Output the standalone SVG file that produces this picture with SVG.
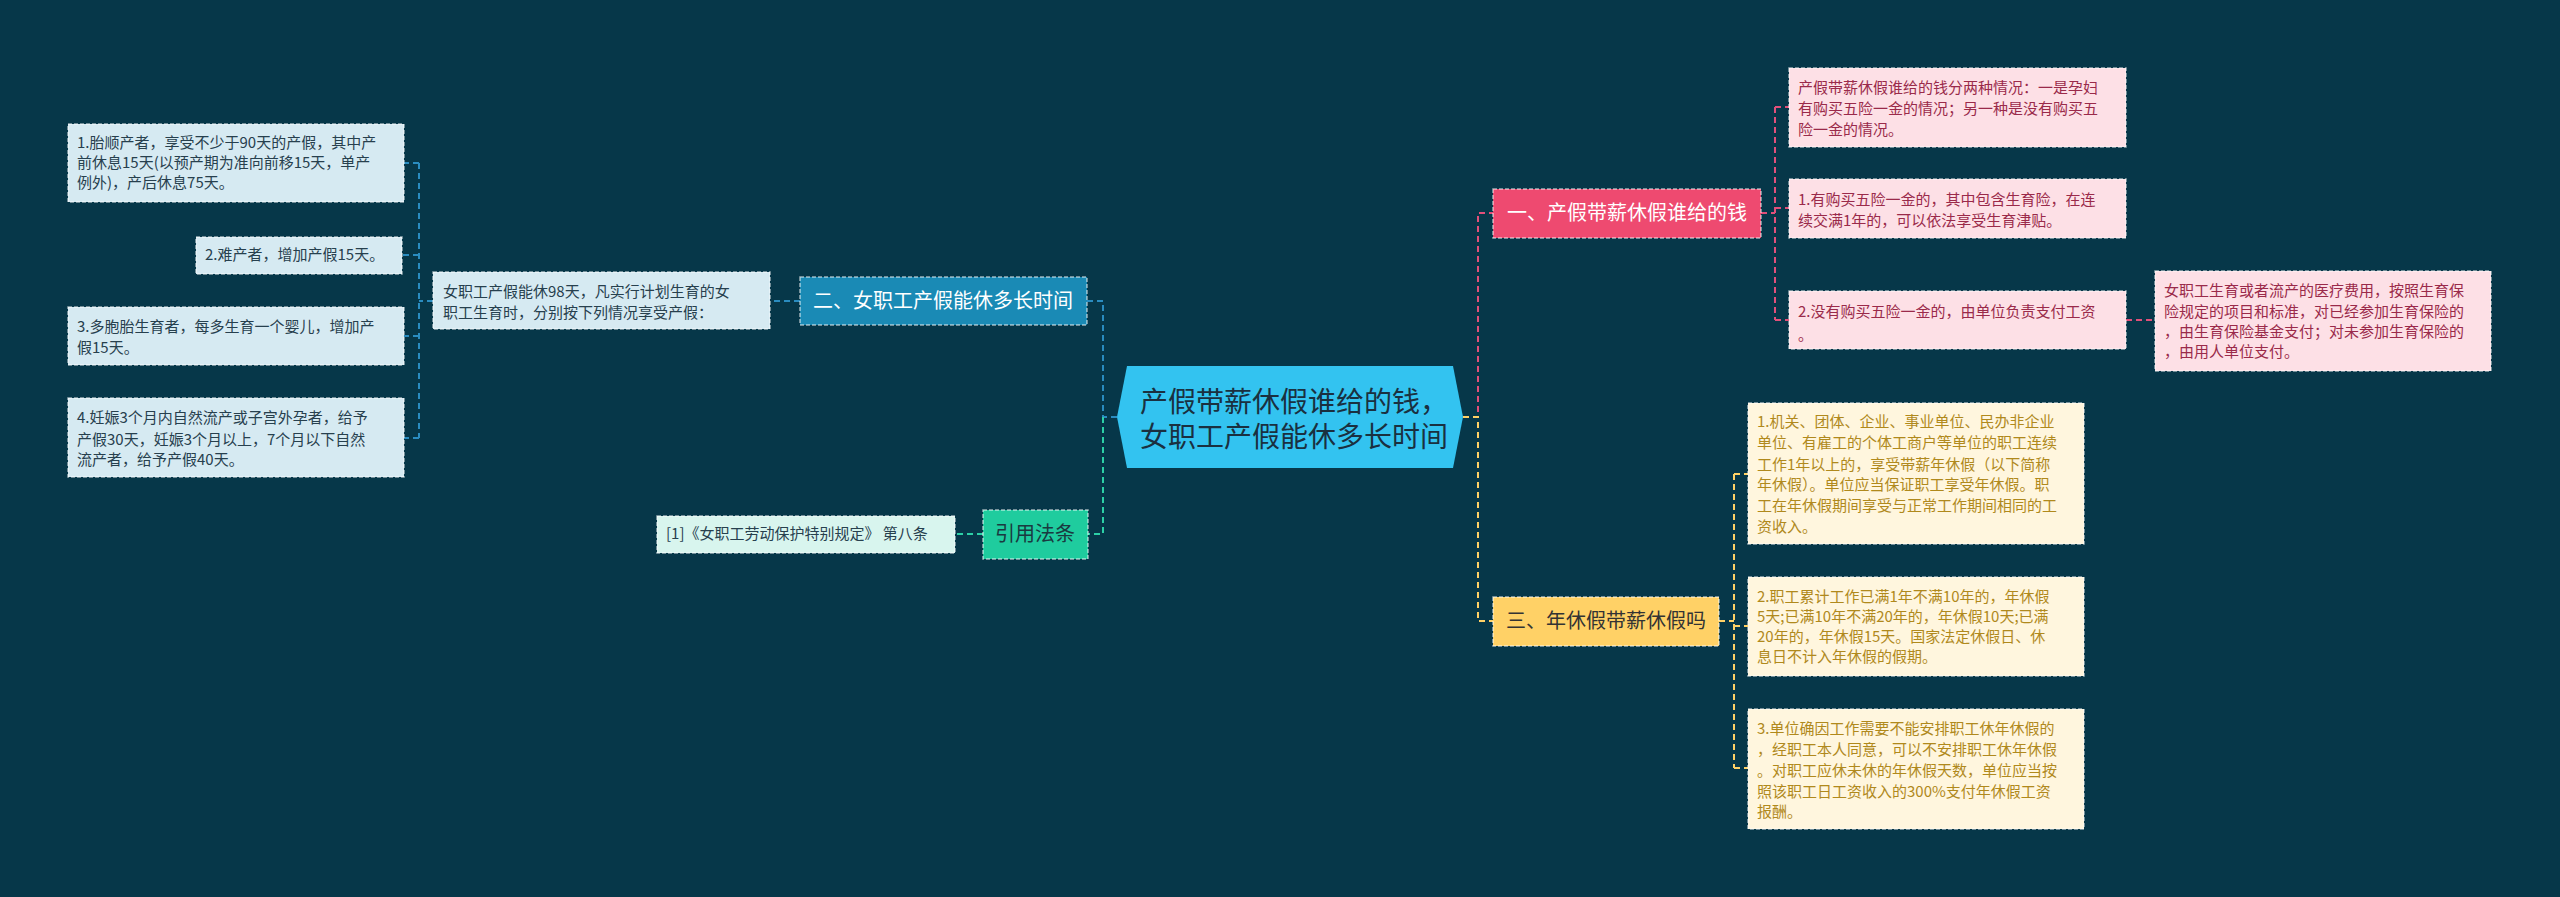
<svg xmlns="http://www.w3.org/2000/svg" width="2560" height="897" viewBox="0 0 2560 897">
<style>
text{font-family:"Noto Sans CJK SC","Liberation Sans",sans-serif;}
.s{font-size:15px;}
.b{font-size:20px;}
.box{stroke:#ffffff;stroke-opacity:.6;stroke-width:1.5;stroke-dasharray:4 2;}
.bl{fill:#d6eaf2}.blt{fill:#27404e}
.pk{fill:#fde0e6}.pkt{fill:#9a2a4a}
.yl{fill:#fff6de}.ylt{fill:#b0891c}
.c{fill:none;stroke-width:2;stroke-dasharray:6 4;}
</style>
<rect width="2560" height="897" fill="#063749"/>
<g id="connectors">
<path class="c" stroke="#2a8cc0" d="M1117 417H1103V301H1087M800 301H770M433 301H419M419 163V438M419 163H404M419 255H402M419 336H404M419 438H404"/>
<path class="c" stroke="#2cd0a6" d="M1103 417V534H1088M983 534H955"/>
<path class="c" stroke="#e0507a" d="M1463 417H1478V213H1493M1761 213H1775M1775 107V320M1775 107H1789M1775 208H1789M1775 320H1789M2126 320H2155"/>
<path class="c" stroke="#ffd166" d="M1463 417H1478V621H1493M1719 621H1734M1734 474V768M1734 474H1748M1734 626H1748M1734 768H1748"/>
</g>
<g id="center"><polygon points="1127,366 1453,366 1463,417 1453,468 1127,468 1117,417" fill="#33c3f0"/>
<text x="1140" y="412" font-size="28" fill="#1a3040">产假带薪休假谁给的钱，</text>
<text x="1140" y="447" font-size="28" fill="#1a3040">女职工产假能休多长时间</text></g>
<g id="b2"><rect x="800" y="277" width="287" height="48" fill="#1a8ab5" class="box"/><text x="943" y="308" text-anchor="middle" class="b" fill="#fff">二、女职工产假能休多长时间</text></g>
<g id="intro"><rect x="433" y="272" width="337" height="57" class="box bl"/><text class="s blt" x="443" y="297">女职工产假能休98天，凡实行计划生育的女</text><text class="s blt" x="443" y="318">职工生育时，分别按下列情况享受产假：</text></g>
<g id="l1"><rect x="68" y="124" width="336" height="78" class="box bl"/><text class="s blt" x="77" y="148">1.胎顺产者，享受不少于90天的产假，其中产</text><text class="s blt" x="77" y="168">前休息15天(以预产期为准向前移15天，单产</text><text class="s blt" x="77" y="188">例外)，产后休息75天。</text></g>
<g id="l2"><rect x="196" y="237" width="206" height="37" class="box bl"/><text class="s blt" x="205" y="260">2.难产者，增加产假15天。</text></g>
<g id="l3"><rect x="68" y="307" width="336" height="58" class="box bl"/><text class="s blt" x="77" y="332">3.多胞胎生育者，每多生育一个婴儿，增加产</text><text class="s blt" x="77" y="353">假15天。</text></g>
<g id="l4"><rect x="68" y="398" width="336" height="79" class="box bl"/><text class="s blt" x="77" y="423">4.妊娠3个月内自然流产或子宫外孕者，给予</text><text class="s blt" x="77" y="445">产假30天，妊娠3个月以上，7个月以下自然</text><text class="s blt" x="77" y="465">流产者，给予产假40天。</text></g>
<g id="cite"><rect x="983" y="510" width="105" height="49" fill="#1fcc9e" class="box"/><text x="1035" y="541" text-anchor="middle" class="b" fill="#1a3a40">引用法条</text></g>
<g id="ref"><rect x="657" y="516" width="298" height="37" fill="#d8f5ee" class="box"/><text class="s" fill="#27404e" x="666" y="539">[1]《女职工劳动保护特别规定》 第八条</text></g>
<g id="b1"><rect x="1493" y="189" width="268" height="49" fill="#ee4a70" class="box"/><text x="1627" y="220" text-anchor="middle" class="b" fill="#fff">一、产假带薪休假谁给的钱</text></g>
<g id="pA"><rect x="1789" y="68" width="337" height="79" class="box pk"/><text class="s pkt" x="1798" y="93">产假带薪休假谁给的钱分两种情况：一是孕妇</text><text class="s pkt" x="1798" y="114">有购买五险一金的情况；另一种是没有购买五</text><text class="s pkt" x="1798" y="135">险一金的情况。</text></g>
<g id="pB"><rect x="1789" y="179" width="337" height="59" class="box pk"/><text class="s pkt" x="1798" y="205">1.有购买五险一金的，其中包含生育险，在连</text><text class="s pkt" x="1798" y="226">续交满1年的，可以依法享受生育津贴。</text></g>
<g id="pC"><rect x="1789" y="291" width="337" height="58" class="box pk"/><text class="s pkt" x="1798" y="317">2.没有购买五险一金的，由单位负责支付工资</text><text class="s pkt" x="1798" y="340">。</text></g>
<g id="pD"><rect x="2155" y="271" width="336" height="100" class="box pk"/><text class="s pkt" x="2164" y="296">女职工生育或者流产的医疗费用，按照生育保</text><text class="s pkt" x="2164" y="317">险规定的项目和标准，对已经参加生育保险的</text><text class="s pkt" x="2164" y="337">，由生育保险基金支付；对未参加生育保险的</text><text class="s pkt" x="2164" y="357">，由用人单位支付。</text></g>
<g id="b3"><rect x="1493" y="597" width="226" height="49" fill="#ffd166" class="box"/><text x="1606" y="628" text-anchor="middle" class="b" fill="#333">三、年休假带薪休假吗</text></g>
<g id="y1"><rect x="1748" y="403" width="336" height="141" class="box yl"/><text class="s ylt" x="1757" y="427">1.机关、团体、企业、事业单位、民办非企业</text><text class="s ylt" x="1757" y="448">单位、有雇工的个体工商户等单位的职工连续</text><text class="s ylt" x="1757" y="470">工作1年以上的，享受带薪年休假（以下简称</text><text class="s ylt" x="1757" y="490">年休假）。单位应当保证职工享受年休假。职</text><text class="s ylt" x="1757" y="511">工在年休假期间享受与正常工作期间相同的工</text><text class="s ylt" x="1757" y="532">资收入。</text></g>
<g id="y2"><rect x="1748" y="577" width="336" height="99" class="box yl"/><text class="s ylt" x="1757" y="602">2.职工累计工作已满1年不满10年的，年休假</text><text class="s ylt" x="1757" y="622">5天;已满10年不满20年的，年休假10天;已满</text><text class="s ylt" x="1757" y="642">20年的，年休假15天。国家法定休假日、休</text><text class="s ylt" x="1757" y="662">息日不计入年休假的假期。</text></g>
<g id="y3"><rect x="1748" y="709" width="336" height="120" class="box yl"/><text class="s ylt" x="1757" y="734">3.单位确因工作需要不能安排职工休年休假的</text><text class="s ylt" x="1757" y="755">，经职工本人同意，可以不安排职工休年休假</text><text class="s ylt" x="1757" y="776">。对职工应休未休的年休假天数，单位应当按</text><text class="s ylt" x="1757" y="797">照该职工日工资收入的300%支付年休假工资</text><text class="s ylt" x="1757" y="817">报酬。</text></g>
</svg>
